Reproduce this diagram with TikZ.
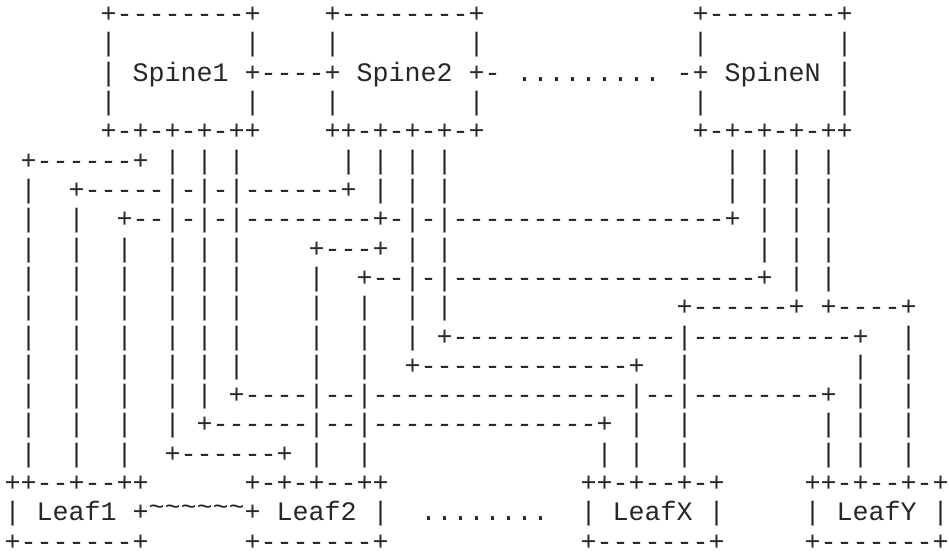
\documentclass[tikz,border=0pt]{standalone}
\usepackage{fontspec}
\setmonofont{Liberation Mono}
\ExplSyntaxOn
\cs_new:Npn \rep #1#2 { \prg_replicate:nn {#1} {#2} }
\ExplSyntaxOff
\newcommand\gap[1]{\rep{#1}{\ }}
\newcommand\tld{\raisebox{0.2em}{\char"7E}}
\newcommand\pre{|\gap{2}|\gap{2}|\gap{2}|\gap{1}|\gap{1}|}
\tikzset{
  ascii/.style={font=\ttfamily\fontsize{20pt}{22pt}\selectfont, text=black!85,
    inner sep=0pt, outer sep=0pt, anchor=base west}
}
\begin{document}
\begin{tikzpicture}[x=1pt,y=1pt]
\useasboundingbox (0,0) rectangle (711.75,-414.75);
\def\cx#1{3.4+#1*12}
\def\ry#1{-17-(#1-1)*21.98}
\node[ascii] (r1) at ({\cx{6}},{\ry{1}}) {+\rep{8}{-}+\gap{4}+\rep{8}{-}+\gap{13}+\rep{8}{-}+};
\node[ascii] (r2) at ({\cx{6}},{\ry{2}}) {|\gap{8}|\gap{4}|\gap{8}|\gap{13}|\gap{8}|};
\node[ascii] (r3) at ({\cx{6}},{\ry{3}}) {|\gap{1}Spine1\gap{1}+----+\gap{1}Spine2\gap{1}+-\gap{1}.........\gap{1}-+\gap{1}SpineN\gap{1}|};
\node[ascii] (r4) at ({\cx{6}},{\ry{4}}) {|\gap{8}|\gap{4}|\gap{8}|\gap{13}|\gap{8}|};
\node[ascii] (r5) at ({\cx{6}},{\ry{5}}) {+-+-+-+-++\gap{4}++-+-+-+-+\gap{13}+-+-+-+-++};
\node[ascii] (r6) at ({\cx{1}},{\ry{6}}) {+\rep{6}{-}+\gap{1}|\gap{1}|\gap{1}|\gap{6}|\gap{1}|\gap{1}|\gap{1}|\gap{17}|\gap{1}|\gap{1}|\gap{1}|};
\node[ascii] (r7) at ({\cx{1}},{\ry{7}}) {|\gap{2}+\rep{5}{-}|-|-|\rep{6}{-}+\gap{1}|\gap{1}|\gap{1}|\gap{17}|\gap{1}|\gap{1}|\gap{1}|};
\node[ascii] (r8) at ({\cx{1}},{\ry{8}}) {|\gap{2}|\gap{2}+\rep{2}{-}|-|-|\rep{8}{-}+-|-|\rep{17}{-}+\gap{1}|\gap{1}|\gap{1}|};
\node[ascii] (r9) at ({\cx{1}},{\ry{9}}) {\pre\gap{4}+\rep{3}{-}+\gap{1}|\gap{1}|\gap{19}|\gap{1}|\gap{1}|};
\node[ascii] (r10) at ({\cx{1}},{\ry{10}}) {\pre\gap{4}|\gap{2}+\rep{2}{-}|-|\rep{19}{-}+\gap{1}|\gap{1}|};
\node[ascii] (r11) at ({\cx{1}},{\ry{11}}) {\pre\gap{4}|\gap{2}|\gap{2}|\gap{1}|\gap{14}+\rep{6}{-}+\gap{1}+\rep{4}{-}+};
\node[ascii] (r12) at ({\cx{1}},{\ry{12}}) {\pre\gap{4}|\gap{2}|\gap{2}|\gap{1}+\rep{14}{-}|\rep{10}{-}+\gap{2}|};
\node[ascii] (r13) at ({\cx{1}},{\ry{13}}) {\pre\gap{4}|\gap{2}|\gap{2}+\rep{13}{-}+\gap{2}|\gap{10}|\gap{2}|};
\node[ascii] (r14) at ({\cx{1}},{\ry{14}}) {|\gap{2}|\gap{2}|\gap{2}|\gap{1}|\gap{1}+\rep{4}{-}|\rep{2}{-}|\rep{16}{-}|\rep{2}{-}|\rep{8}{-}+\gap{1}|\gap{2}|};
\node[ascii] (r15) at ({\cx{1}},{\ry{15}}) {|\gap{2}|\gap{2}|\gap{2}|\gap{1}+\rep{6}{-}|\rep{2}{-}|\rep{14}{-}+\gap{1}|\gap{2}|\gap{8}|\gap{1}|\gap{2}|};
\node[ascii] (r16) at ({\cx{1}},{\ry{16}}) {|\gap{2}|\gap{2}|\gap{2}+\rep{6}{-}+\gap{1}|\gap{2}|\gap{14}|\gap{1}|\gap{2}|\gap{8}|\gap{1}|\gap{2}|};
\node[ascii] (r17) at ({\cx{0}},{\ry{17}}) {++\rep{2}{-}+\rep{2}{-}++\gap{6}+-+-+\rep{2}{-}++\gap{12}++-+\rep{2}{-}+-+\gap{5}++-+\rep{2}{-}+-+};
\node[ascii] (r18) at ({\cx{0}},{\ry{18}}) {|\gap{1}Leaf1\gap{1}+\rep{6}{\tld}+\gap{1}Leaf2\gap{1}|\gap{2}........\gap{2}|\gap{1}LeafX\gap{1}|\gap{5}|\gap{1}LeafY\gap{1}|};
\node[ascii] (r19) at ({\cx{0}},{\ry{19}}) {+\rep{7}{-}+\gap{6}+\rep{7}{-}+\gap{12}+\rep{7}{-}+\gap{5}+\rep{7}{-}+};
\end{tikzpicture}
\end{document}
